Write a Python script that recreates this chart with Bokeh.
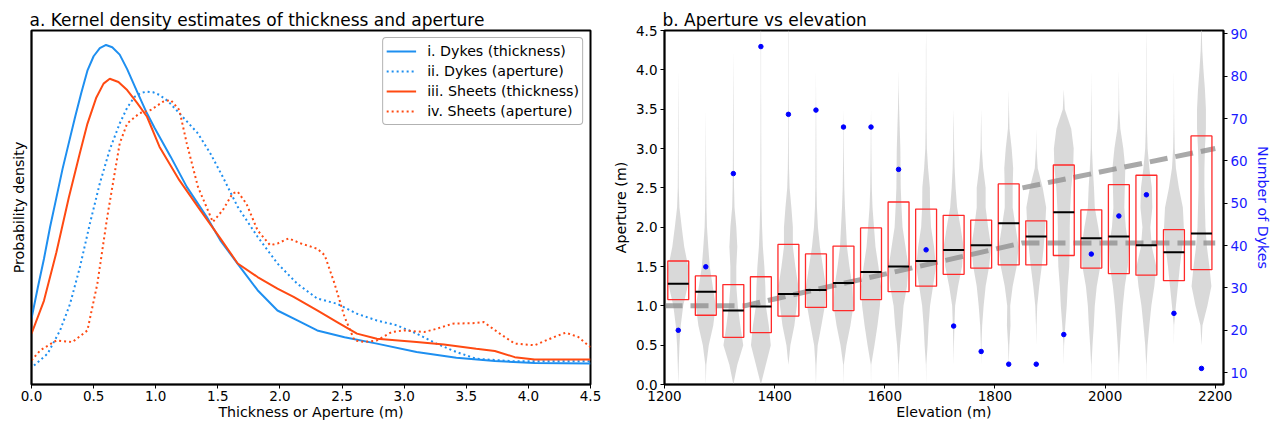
from bokeh.plotting import figure
from bokeh.layouts import row
from bokeh.models import (Range1d, LinearAxis, FixedTicker, PrintfTickFormatter,
                          Legend, LegendItem)
from bokeh.embed import file_html
from bokeh.resources import INLINE

FONT = "DejaVu Sans"
TICK_FS = "13.5px"
LABEL_FS = "14.2px"
TITLE_FS = "17px"

# ---------------- panel a: kernel density estimates ----------------
dyke_thk_x = [0.0, 0.05, 0.10, 0.15, 0.20, 0.25, 0.30, 0.35, 0.40, 0.45, 0.50, 0.55, 0.60,
              0.65, 0.71, 0.77, 0.85, 0.92, 0.99, 1.12, 1.25, 1.41, 1.52, 1.66, 1.82, 1.98,
              2.14, 2.30, 2.52, 2.78, 3.10, 3.42, 3.73, 4.05, 4.50]
dyke_thk_y = [0.155, 0.25, 0.34, 0.44, 0.53, 0.62, 0.70, 0.78, 0.855, 0.925, 0.97, 0.995,
              1.005, 0.998, 0.975, 0.93, 0.86, 0.80, 0.748, 0.658, 0.564, 0.471, 0.398,
              0.325, 0.243, 0.180, 0.149, 0.118, 0.097, 0.077, 0.051, 0.033, 0.023, 0.017,
              0.015]

dyke_ap_x = [0.02, 0.13, 0.23, 0.31, 0.39, 0.47, 0.55, 0.63, 0.71, 0.77, 0.83, 0.88, 0.93,
             0.98, 1.03, 1.10, 1.19, 1.34, 1.44, 1.54, 1.66, 1.82, 1.98, 2.14, 2.30, 2.46,
             2.62, 2.78, 2.94, 3.10, 3.26, 3.42, 3.58, 3.89, 4.50]
dyke_ap_y = [0.009, 0.046, 0.118, 0.20, 0.315, 0.45, 0.575, 0.68, 0.761, 0.81, 0.844, 0.856,
             0.860, 0.858, 0.850, 0.83, 0.793, 0.730, 0.668, 0.595, 0.502, 0.409, 0.326,
             0.263, 0.217, 0.201, 0.170, 0.149, 0.134, 0.108, 0.077, 0.051, 0.030, 0.022,
             0.022]

sheet_thk_x = [0.0, 0.10, 0.20, 0.30, 0.39, 0.45, 0.52, 0.58, 0.63, 0.70, 0.77, 0.85, 0.93,
               1.03, 1.19, 1.34, 1.52, 1.66, 1.82, 1.98, 2.11, 2.30, 2.46, 2.62, 2.78, 3.10,
               3.32, 3.58, 3.73, 3.89, 4.05, 4.50]
sheet_thk_y = [0.108, 0.21, 0.36, 0.53, 0.67, 0.76, 0.84, 0.885, 0.900, 0.89, 0.865, 0.825,
               0.782, 0.689, 0.585, 0.502, 0.404, 0.326, 0.284, 0.248, 0.222, 0.180, 0.144,
               0.108, 0.092, 0.082, 0.074, 0.061, 0.054, 0.035, 0.028, 0.028]

sheet_ap_x = [0.0, 0.07, 0.20, 0.33, 0.45, 0.53, 0.61, 0.71, 0.77, 0.87, 0.96, 1.06, 1.12,
              1.19, 1.25, 1.34, 1.46, 1.54, 1.62, 1.66, 1.73, 1.82, 1.92, 1.98, 2.07, 2.17,
              2.30, 2.36, 2.44, 2.52, 2.60, 2.68, 2.78, 2.90, 3.00, 3.16, 3.26, 3.39, 3.58,
              3.64, 3.77, 3.89, 4.05, 4.21, 4.30, 4.40, 4.50]
sheet_ap_y = [0.025, 0.056, 0.087, 0.082, 0.118, 0.263, 0.471, 0.699, 0.761, 0.793, 0.803,
              0.829, 0.834, 0.803, 0.699, 0.564, 0.455, 0.492, 0.544, 0.549, 0.512, 0.429,
              0.383, 0.388, 0.404, 0.388, 0.372, 0.352, 0.263, 0.160, 0.087, 0.082, 0.087,
              0.113, 0.118, 0.113, 0.123, 0.139, 0.141, 0.144, 0.108, 0.077, 0.072, 0.098,
              0.111, 0.098, 0.066]

kde_labels = ["i. Dykes (thickness)", "ii. Dykes (aperture)",
              "iii. Sheets (thickness)", "iv. Sheets (aperture)"]
x_ticks_a = [0.0, 0.5, 1.0, 1.5, 2.0, 2.5, 3.0, 3.5, 4.0, 4.5]

# ---------------- panel b: aperture vs elevation ----------------
elev_centers = [1225, 1275, 1325, 1375, 1425, 1475, 1525, 1575, 1625, 1675,
                1725, 1775, 1825, 1875, 1925, 1975, 2025, 2075, 2125, 2175]
ap_q1 = [1.08, 0.88, 0.60, 0.66, 0.87, 0.98, 0.94, 1.08, 1.18, 1.25,
         1.40, 1.48, 1.52, 1.52, 1.64, 1.48, 1.41, 1.39, 1.32, 1.46]
ap_median = [1.28, 1.18, 0.94, 0.99, 1.15, 1.20, 1.29, 1.43, 1.50, 1.57,
             1.71, 1.77, 2.05, 1.88, 2.19, 1.86, 1.88, 1.77, 1.68, 1.92]
ap_q3 = [1.57, 1.38, 1.27, 1.37, 1.78, 1.66, 1.76, 1.99, 2.32, 2.23,
         2.15, 2.09, 2.55, 2.08, 2.79, 2.22, 2.54, 2.66, 1.97, 3.16]
n_dykes = [20, 35, 57, 87, 71, 72, 68, 68, 58, 39,
           21, 15, 12, 12, 19, 38, 47, 52, 24, 11]

# violin density profiles (relative, 0..1) at these aperture levels
violin_levels = [0.0, 0.25, 0.5, 0.75, 1.0, 1.25, 1.5, 1.75, 2.0, 2.25,
                 2.5, 2.75, 3.0, 3.25, 3.5, 3.75, 4.0, 4.25, 4.5]
violin_density = [
    [0, 0.05, 0.12, 0.25, 0.5, 0.95, 1.0, 0.6, 0.35, 0.12, 0.05, 0.04, 0.03, 0.03, 0.02, 0.01, 0, 0, 0],
    [0, 0.05, 0.3, 0.75, 1.0, 0.7, 0.4, 0.25, 0.12, 0.07, 0.05, 0.03, 0.02, 0.01, 0, 0, 0, 0, 0],
    [0, 0.4, 1.0, 0.7, 0.45, 0.3, 0.3, 0.4, 0.3, 0.12, 0.07, 0.05, 0.04, 0.04, 0.03, 0.02, 0.01, 0, 0],
    [0, 0.5, 1.0, 0.8, 0.5, 0.45, 0.35, 0.2, 0.12, 0.07, 0.05, 0.04, 0.04, 0.03, 0.03, 0.02, 0.02, 0.02, 0.02],
    [0, 0, 0.2, 0.6, 0.85, 1.0, 0.7, 0.45, 0.45, 0.3, 0.12, 0.06, 0.04, 0.03, 0.03, 0.02, 0.02, 0.02, 0.02],
    [0, 0.05, 0.18, 0.55, 0.9, 1.0, 0.7, 0.4, 0.2, 0.1, 0.06, 0.05, 0.04, 0.03, 0.02, 0.01, 0, 0, 0],
    [0, 0.03, 0.3, 0.7, 1.0, 0.9, 0.6, 0.35, 0.25, 0.15, 0.08, 0.05, 0.03, 0.02, 0, 0, 0, 0, 0],
    [0, 0.02, 0.35, 0.65, 0.9, 1.0, 0.75, 0.45, 0.3, 0.15, 0.08, 0.05, 0.03, 0.02, 0, 0, 0, 0, 0],
    [0, 0.03, 0.15, 0.35, 0.5, 0.85, 1.0, 0.7, 0.4, 0.3, 0.22, 0.2, 0.18, 0.12, 0.06, 0.02, 0, 0, 0],
    [0, 0.02, 0.15, 0.25, 0.4, 0.7, 1.0, 0.8, 0.5, 0.4, 0.38, 0.2, 0.08, 0.05, 0.04, 0.03, 0.02, 0.02, 0],
    [0, 0, 0.03, 0.08, 0.15, 0.45, 0.85, 1.0, 0.7, 0.35, 0.2, 0.1, 0.05, 0.03, 0, 0, 0, 0, 0],
    [0, 0, 0.03, 0.1, 0.25, 0.45, 0.8, 1.0, 0.7, 0.45, 0.45, 0.2, 0.06, 0.03, 0, 0, 0, 0, 0],
    [0, 0, 0.06, 0.18, 0.15, 0.4, 0.8, 1.0, 0.7, 0.4, 0.4, 0.45, 0.3, 0.08, 0.03, 0, 0, 0, 0],
    [0, 0, 0, 0.03, 0.1, 0.3, 0.55, 0.75, 0.9, 1.0, 0.65, 0.15, 0.03, 0, 0, 0, 0, 0, 0],
    [0, 0, 0.03, 0.15, 0.3, 0.4, 0.55, 0.6, 0.6, 0.65, 0.75, 0.95, 1.0, 0.75, 0.1, 0, 0, 0, 0],
    [0, 0.02, 0.12, 0.25, 0.35, 0.55, 0.9, 1.0, 0.7, 0.35, 0.27, 0.15, 0.06, 0.04, 0.03, 0.01, 0, 0, 0],
    [0, 0.02, 0.12, 0.25, 0.4, 0.6, 0.9, 1.0, 0.7, 0.55, 0.6, 0.65, 0.45, 0.15, 0.04, 0.02, 0, 0, 0],
    [0, 0.02, 0.12, 0.3, 0.5, 0.8, 1.0, 0.55, 0.4, 0.6, 0.55, 0.3, 0.12, 0.06, 0.04, 0.03, 0.02, 0.02, 0],
    [0, 0, 0, 0.02, 0.2, 0.4, 0.6, 0.85, 1.0, 0.9, 0.5, 0.2, 0.08, 0.04, 0.02, 0.01, 0, 0, 0],
    [0, 0, 0, 0.1, 0.6, 1.0, 0.8, 0.55, 0.4, 0.35, 0.3, 0.3, 0.35, 0.45, 0.45, 0.35, 0.2, 0.08, 0.03],
]

# trend lines (elevation, aperture)
trend_low_x = [1200, 1345, 1850, 2200]
trend_low_y = [1.0, 1.0, 1.8, 1.8]
trend_high_x = [1850, 2200]
trend_high_y = [2.5, 3.0]

x_ticks_b = [1200, 1400, 1600, 1800, 2000, 2200]
y_ticks_b = [0.0, 0.5, 1.0, 1.5, 2.0, 2.5, 3.0, 3.5, 4.0, 4.5]
n_ticks = [10, 20, 30, 40, 50, 60, 70, 80, 90]

VIOLIN_HALF = 18.0   # metres, half-width of widest part
BOX_HALF = 19.0      # metres


def style(p):
    p.outline_line_color = "black"
    p.outline_line_width = 2
    p.xgrid.visible = False
    p.ygrid.visible = False
    p.title.text_font = FONT
    p.title.text_font_size = TITLE_FS
    p.title.text_font_style = "normal"
    p.title.text_color = "black"
    p.title.align = "left"
    p.title.offset = -2
    p.title.standoff = 2
    for ax in p.axis:
        ax.axis_line_color = "black"
        ax.axis_line_width = 1.5
        ax.major_tick_line_color = "black"
        ax.major_tick_out = 4
        ax.major_tick_in = 0
        ax.minor_tick_line_color = None
        ax.major_label_text_font = FONT
        ax.major_label_text_font_size = TICK_FS
        ax.major_label_text_color = "black"
        ax.axis_label_text_font = FONT
        ax.axis_label_text_font_size = LABEL_FS
        ax.axis_label_text_font_style = "normal"
        ax.axis_label_text_color = "black"
        ax.axis_label_standoff = 4
        ax.major_label_standoff = 3
    for ax in p.xaxis:
        ax.axis_label_standoff = 0
        ax.major_label_standoff = 2


H = 426

# ---- panel a ----
p1 = figure(width=610, height=H, x_range=Range1d(0, 4.5), y_range=Range1d(-0.05, 1.05),
            output_backend="svg", toolbar_location=None,
            min_border_left=31, min_border_right=20, min_border_top=30, min_border_bottom=42,
            title="a. Kernel density estimates of thickness and aperture")
style(p1)
p1.xaxis.ticker = FixedTicker(ticks=x_ticks_a)
p1.xaxis.formatter = PrintfTickFormatter(format="%.1f")
p1.xaxis.axis_label = "Thickness or Aperture (m)"
p1.yaxis.ticker = FixedTicker(ticks=[])
p1.yaxis.major_tick_out = 0
p1.yaxis.major_label_standoff = 0
p1.yaxis.axis_label = "Probability density"
p1.yaxis.axis_label_standoff = 5

BLUE = "#1e8ff0"
RED = "#ff4a12"
r1 = p1.line(dyke_thk_x, dyke_thk_y, line_color=BLUE, line_width=2)
r2 = p1.line(dyke_ap_x, dyke_ap_y, line_color=BLUE, line_width=2, line_dash="2 3")
r3 = p1.line(sheet_thk_x, sheet_thk_y, line_color=RED, line_width=2)
r4 = p1.line(sheet_ap_x, sheet_ap_y, line_color=RED, line_width=2, line_dash="2 3")

legend = Legend(items=[LegendItem(label=l, renderers=[r]) for l, r in
                       zip(kde_labels, [r1, r2, r3, r4])],
                location="top_right")
legend.label_text_font = FONT
legend.label_text_font_size = LABEL_FS
legend.label_text_color = "black"
legend.glyph_width = 30
legend.glyph_height = 20
legend.label_height = 20
legend.spacing = 0
legend.label_standoff = 11
legend.padding = 3
legend.margin = 7
legend.border_line_color = "#666666"
legend.border_line_width = 1
legend.background_fill_alpha = 1.0
if "border_radius" in Legend.properties():
    legend.border_radius = 4
p1.add_layout(legend)

# ---- panel b ----
p2 = figure(width=666, height=H, x_range=Range1d(1200, 2215), y_range=Range1d(0, 4.5),
            output_backend="svg", toolbar_location=None,
            min_border_left=54, min_border_right=53, min_border_top=30, min_border_bottom=42,
            title="b. Aperture vs elevation")
p2.extra_y_ranges = {"n": Range1d(7.2, 90.8)}
rax = LinearAxis(y_range_name="n", ticker=FixedTicker(ticks=n_ticks),
                 axis_label="Number of Dykes")
p2.add_layout(rax, "right")
style(p2)
p2.xaxis.ticker = FixedTicker(ticks=x_ticks_b)
p2.xaxis.axis_label = "Elevation (m)"
p2.yaxis[0].ticker = FixedTicker(ticks=y_ticks_b)
p2.yaxis[0].formatter = PrintfTickFormatter(format="%.1f")
p2.yaxis[0].axis_label = "Aperture (m)"
rax.major_label_text_color = "#1a1aff"
rax.axis_label_text_color = "#1a1aff"

# violins
vxs, vys = [], []
for c, dens in zip(elev_centers, violin_density):
    right = [c + VIOLIN_HALF * d for d in dens]
    left = [c - VIOLIN_HALF * d for d in dens]
    vxs.append(right + left[::-1])
    vys.append(violin_levels + violin_levels[::-1])
p2.patches(vxs, vys, fill_color="#d2d2d2", fill_alpha=0.85, line_color=None)

# trend lines
p2.line(trend_low_x, trend_low_y, line_color="#8c8c8c", line_alpha=0.75, line_width=5,
        line_dash="18 8")
p2.line(trend_high_x, trend_high_y, line_color="#8c8c8c", line_alpha=0.75, line_width=5,
        line_dash="18 8")

# boxes
p2.quad(left=[c - BOX_HALF for c in elev_centers], right=[c + BOX_HALF for c in elev_centers],
        bottom=ap_q1, top=ap_q3, fill_color=None, line_color="#ff2a2a", line_width=1.3)
p2.segment(x0=[c - BOX_HALF for c in elev_centers], x1=[c + BOX_HALF for c in elev_centers],
           y0=ap_median, y1=ap_median, line_color="black", line_width=2)

# number of dykes
p2.scatter(elev_centers, n_dykes, y_range_name="n", size=4.5, color="#0000ff")

layout = row(p1, p2)
open("out.html", "w").write(file_html(layout, INLINE))
